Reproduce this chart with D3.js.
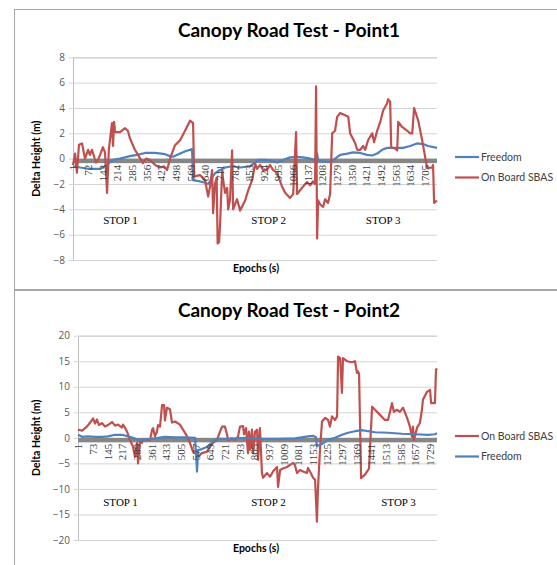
<!DOCTYPE html>
<html>
<head>
<meta charset="utf-8">
<script src="https://cdn.jsdelivr.net/npm/d3@7"></script>
<style>
  body { margin: 0; background: #fff; }
  svg { display: block; }
</style>
</head>
<body>
<div id="chart"></div>
<script>
// ---- data (epoch, delta height in m) ----
var p1SbasEpoch = [1,11,20,30,45,59,74,83,93,112,122,132,146,156,166,175,190,195,200,205,229,253,267,277,301,316,340,355,374,399,423,442,457,471,495,520,544,568,583,588,617,641,656,665,675,680,689,697,702,709,714,724,728,738,748,753,762,772,777,796,811,835,850,869,884,893,908,922,941,956,971,990,1014,1029,1053,1068,1082,1087,1111,1135,1150,1164,1174,1179,1184,1189,1198,1213,1223,1237,1247,1257,1271,1281,1296,1335,1344,1369,1378,1393,1407,1417,1431,1451,1460,1475,1490,1504,1523,1528,1538,1543,1562,1572,1577,1596,1621,1635,1645,1654,1674,1693,1708,1717,1741,1746,1751,1765];
var p1SbasValue = [-0.5,0.4,-1.1,1.1,1.2,0.0,0.7,0.3,0.7,-0.3,-0.1,0.3,0.9,0.5,-2.7,0.8,2.8,1.0,2.9,2.1,2.1,2.4,2.2,1.6,0.7,0.3,-0.35,0.0,-0.1,-0.5,-0.7,-0.6,-0.9,0.0,1.05,1.45,2.2,3.0,2.8,-1.4,-1.3,-1.7,-3.0,-2.2,-0.9,-4.3,-2.0,-1.5,-6.7,-6.6,-5.1,-0.9,-1.6,-2.7,-2.3,-4.0,-3.2,0.65,-4.0,-3.2,-4.1,-3.3,-2.5,-1.7,-0.4,-0.8,-0.5,-0.9,-0.9,-0.5,-0.9,-1.1,-2.2,-2.7,-3.1,-2.8,2.1,-2.8,-2.3,-1.85,-2.1,-1.8,-2.0,5.7,-6.3,-3.3,-3.6,-3.8,-3.2,-3.5,-2.8,2.0,2.2,3.3,3.6,3.3,2.0,1.2,0.7,0.7,1.0,0.7,1.45,2.0,1.3,2.2,2.9,3.8,4.35,4.7,4.5,0.9,0.8,0.65,2.9,2.5,2.2,2.0,2.0,4.0,3.0,1.45,0.1,-0.75,-0.7,-0.5,-3.5,-3.3];
var p1FreedomEpoch = [1,35,74,132,146,195,229,277,311,350,399,447,471,486,520,549,578,583,617,641,656,689,714,738,772,811,859,884,898,932,956,990,1019,1053,1087,1116,1150,1174,1184,1189,1213,1247,1271,1296,1330,1358,1393,1426,1451,1475,1499,1523,1577,1601,1635,1668,1698,1722,1765];
var p1FreedomValue = [-0.6,-0.7,-0.8,-0.8,-0.7,-0.1,0.0,0.2,0.3,0.45,0.45,0.35,0.2,0.15,0.4,0.6,0.75,-1.7,-1.8,-1.9,-2.0,-1.15,-0.9,-0.7,-0.6,-0.7,-0.6,-0.3,-0.1,-0.1,-0.15,-0.3,-0.1,0.1,0.15,0.1,0.0,-0.1,0.4,-0.1,-0.25,-0.25,0.0,0.3,0.4,0.5,0.45,0.3,0.25,0.4,0.7,0.85,0.85,0.85,1.0,1.2,1.15,1.0,0.85];

var p2SbasEpoch = [1,21,45,70,75,85,94,104,119,134,148,168,183,198,217,222,232,242,256,271,281,291,296,306,315,320,340,355,365,370,379,389,394,404,414,424,428,438,453,463,478,502,517,537,551,566,586,591,610,635,650,664,684,699,709,723,733,738,758,772,787,797,812,817,827,836,841,846,856,861,871,881,886,895,905,910,930,945,959,979,984,994,1008,1028,1043,1058,1067,1077,1092,1107,1126,1131,1141,1156,1166,1175,1180,1190,1200,1215,1230,1239,1249,1264,1274,1279,1289,1298,1303,1323,1347,1362,1372,1377,1382,1392,1411,1426,1431,1446,1460,1485,1509,1524,1534,1544,1553,1568,1583,1598,1618,1632,1642,1647,1652,1667,1681,1691,1696,1716,1731,1736,1755,1760,1765];
var p2SbasValue = [1.6,1.4,2.2,3.5,3.8,2.8,3.6,2.5,2.9,2.2,2.5,3.1,2.4,2.6,2.0,2.6,2.0,1.2,-0.4,-1.7,-3.7,-1.0,-5.0,-0.4,-1.0,-0.4,-0.4,-0.4,1.6,1.9,0.3,1.2,2.5,2.2,6.4,6.4,3.4,5.9,5.6,3.0,3.2,2.6,1.6,0.3,-1.0,-2.7,-3.3,-3.7,-3.0,-2.7,-1.7,-1.0,-0.4,1.2,2.2,2.2,0.7,-0.4,-0.1,-0.4,0.2,2.2,2.3,0.7,1.9,-3.0,1.2,-2.3,1.6,-3.0,1.2,1.6,-4.3,1.9,-6.9,-7.8,-6.9,-7.6,-6.6,-5.7,-9.6,-6.3,-6.0,-5.7,-5.3,-4.9,-5.3,-6.9,-6.3,-6.6,-6.9,-5.9,-6.6,-7.8,-8.2,-16.4,-10.0,-2.4,3.2,3.9,3.5,2.2,4.2,3.5,4.2,15.9,15.6,8.8,15.6,15.0,14.8,15.0,12.7,13.0,12.5,-7.9,-7.2,-6.3,-6.0,6.1,5.5,4.5,3.5,3.5,5.1,6.8,5.1,5.5,5.1,5.9,3.9,2.2,0.2,2.2,-0.4,2.0,2.9,5.5,7.5,9.0,9.4,6.8,6.8,13.3,13.6];
var p2FreedomEpoch = [1,21,50,85,119,148,183,217,247,271,296,330,379,428,478,527,576,586,591,610,640,664,689,738,822,905,984,1067,1131,1156,1170,1175,1200,1230,1264,1298,1328,1362,1397,1426,1460,1524,1593,1657,1721,1755,1765];
var p2FreedomValue = [0.6,0.2,0.3,0.2,0.2,0.3,0.6,0.6,0.3,0.0,-0.4,-0.4,-0.1,0.2,0.1,0.1,0.0,-6.6,-2.4,-2.2,-1.7,-0.7,-0.2,-0.2,0.0,-0.2,-0.2,-0.1,0.3,0.4,0.1,-1.6,-1.2,-0.4,0.0,0.6,1.0,1.3,1.5,1.3,1.1,1.0,0.8,0.7,0.6,0.7,0.9];

var p1XTicks = [1,72,143,214,285,356,427,498,569,640,711,782,853,924,995,1066,1137,1208,1279,1350,1421,1492,1563,1634,1705];
var p2XTicks = [1,73,145,217,289,361,433,505,577,649,721,793,865,937,1009,1081,1153,1225,1297,1369,1441,1513,1585,1657,1729];
var p1YTicks = [-8,-6,-4,-2,0,2,4,6,8];
var p2YTicks = [-20,-15,-10,-5,0,5,10,15,20];

var stopNames = ['STOP 1','STOP 2','STOP 3'];
var p1StopEpoch = [231,949,1504];
var p1StopValue = [-4.85,-4.85,-4.85];
var p2StopEpoch = [210,937,1576];
var p2StopValue = [-12.5,-12.5,-12.5];

var sbasColor = '#c0504d', freedomColor = '#4f81bd';
var epochMax = 1765;

function zip(a, b) { return a.map(function(d, i) { return [d, b[i]]; }); }

var svg = d3.select('#chart').append('svg').attr('width', 557).attr('height', 565);

function drawChart(o) {
  var g = svg.append('g');
  // frame
  g.append('rect').attr('x', 14.5).attr('y', o.top + 0.5).attr('width', 560).attr('height', o.height)
    .attr('fill', 'none').attr('stroke', '#a6a6a6').attr('stroke-width', 1);

  var x = d3.scaleLinear().domain([1, epochMax]).range([o.left, 437]);
  var y = d3.scaleLinear().domain([o.yTicks[0], o.yTicks[o.yTicks.length - 1]]).range([o.plotBottom, o.plotTop]);

  // gridlines + y axis
  var yAxis = d3.axisLeft(y).tickValues(o.yTicks).tickSize(-(437 - o.left)).tickPadding(8);
  var ya = g.append('g').attr('transform', 'translate(' + o.left + ',0)').call(yAxis);
  ya.select('.domain').attr('stroke', '#bfbfbf');
  ya.selectAll('.tick line').attr('stroke', '#d4d4d4').attr('x1', -4);
  ya.selectAll('.tick text').attr('fill', '#595959').style('font', '10px "Open Sans", sans-serif');

  // thick zero axis line
  g.append('rect').attr('x', o.left).attr('y', y(0)).attr('width', 437 - o.left).attr('height', 4.5).attr('fill', '#868686');

  var line = d3.line().x(function(d) { return x(d[0]); }).y(function(d) { return y(d[1]); });
  o.series.forEach(function(s) {
    g.append('path').datum(zip(s.epochs, s.values)).attr('d', line)
      .attr('fill', 'none').attr('stroke', s.color).attr('stroke-width', 2.2).attr('stroke-linejoin', 'round');
  });

  // rotated category labels
  var xAxis = d3.axisBottom(x).tickValues(o.xTicks).tickSize(0).tickFormat(d3.format('d'));
  var xa = g.append('g').attr('transform', 'translate(0,' + (y(0) + 4) + ')').call(xAxis);
  xa.select('.domain').remove();
  xa.selectAll('.tick text').attr('transform', 'rotate(-90)').attr('text-anchor', 'end')
    .attr('x', -2).attr('y', 0).attr('dy', '0.35em')
    .attr('fill', '#404040').style('font', '11px "Liberation Serif", serif');

  // stop annotations
  stopNames.forEach(function(n, i) {
    g.append('text').attr('x', x(o.stopEpoch[i])).attr('y', y(o.stopValue[i])).attr('dy', '0.35em')
      .attr('text-anchor', 'middle').style('font', '11px "Liberation Serif", serif').text(n);
  });

  // titles
  g.append('text').attr('x', 289).attr('y', o.titleY).attr('text-anchor', 'middle')
    .style('font', 'bold 19px Lato, sans-serif').attr('fill', '#000').text(o.title);
  g.append('text').attr('transform', 'translate(40,' + ((o.plotTop + o.plotBottom) / 2) + ') rotate(-90)')
    .attr('text-anchor', 'middle').style('font', 'bold 10.5px Lato, sans-serif').text('Delta Height (m)');
  g.append('text').attr('x', 256).attr('y', o.plotBottom + 12).attr('text-anchor', 'middle')
    .style('font', 'bold 10.5px Lato, sans-serif').text('Epochs (s)');

  // legend
  o.legend.forEach(function(s, i) {
    var ly = o.legendY + i * 20.5;
    g.append('line').attr('x1', 455).attr('x2', 479).attr('y1', ly).attr('y2', ly)
      .attr('stroke', s.color).attr('stroke-width', 2.2);
    g.append('text').attr('x', 481).attr('y', ly).attr('dy', '0.35em')
      .style('font', '10.5px Lato, sans-serif').attr('fill', '#404040').text(s.name);
  });
}

var p1Sbas = { name: 'On Board SBAS', color: sbasColor, epochs: p1SbasEpoch, values: p1SbasValue };
var p1Free = { name: 'Freedom', color: freedomColor, epochs: p1FreedomEpoch, values: p1FreedomValue };
var p2Sbas = { name: 'On Board SBAS', color: sbasColor, epochs: p2SbasEpoch, values: p2SbasValue };
var p2Free = { name: 'Freedom', color: freedomColor, epochs: p2FreedomEpoch, values: p2FreedomValue };

drawChart({
  top: 9, height: 280, left: 73, plotTop: 57.3, plotBottom: 260,
  yTicks: p1YTicks, xTicks: p1XTicks, title: 'Canopy Road Test - Point1', titleY: 37,
  series: [p1Free, p1Sbas], legend: [p1Free, p1Sbas], legendY: 157,
  stopEpoch: p1StopEpoch, stopValue: p1StopValue
});
drawChart({
  top: 290, height: 300, left: 78, plotTop: 335.7, plotBottom: 540,
  yTicks: p2YTicks, xTicks: p2XTicks, title: 'Canopy Road Test - Point2', titleY: 317,
  series: [p2Sbas, p2Free], legend: [p2Sbas, p2Free], legendY: 436,
  stopEpoch: p2StopEpoch, stopValue: p2StopValue
});
</script>
</body>
</html>
